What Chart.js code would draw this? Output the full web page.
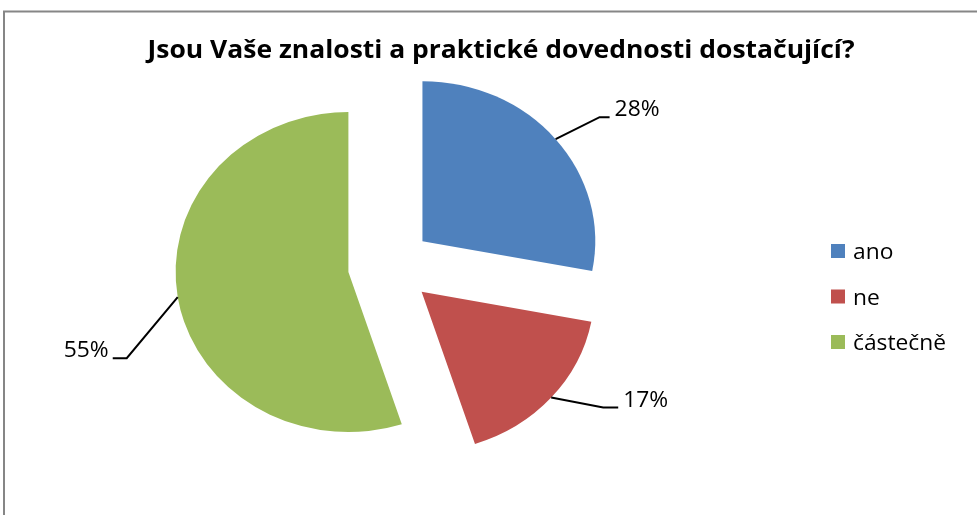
<!DOCTYPE html>
<html><head><meta charset="utf-8">
<script src="https://cdn.jsdelivr.net/npm/chart.js@4.4.0/dist/chart.umd.min.js"></script>
<style>html,body{margin:0;padding:0;background:#fff;}#wrap{width:977px;height:515px;position:relative;}canvas{display:block;}</style>
</head><body><div id="wrap"><canvas id="c" width="977" height="515"></canvas></div>
<script>
const chartTitle = 'Jsou Vaše znalosti a praktické dovednosti dostačující?';
const categories = ['ano', 'ne', 'částečně'];
const values = [28, 17, 55];
const percentLabels = ['28%', '17%', '55%'];
const colors = ['#4F81BD', '#C0504D', '#9BBB59'];

const STRETCH = 1.08;   // horizontal stretch of the reference image
const EXPLODE = 39;     // distance each slice is pulled out
const leader = [
  {dx: 44, dy: -22, tail: 10},
  {dx: 52, dy: 10, tail: 15},
  {dx: -51, dy: 61, tail: -14}
];

function centerX(chart){ return (chart.chartArea.left + chart.chartArea.right) / 2; }
function sx(chart, x){ const c = centerX(chart); return c + (x - c) * STRETCH; }

function hText(ctx, text, x, y, align, hs) {
  const w = ctx.measureText(text).width * hs;
  let left = x;
  if (align === 'center') left = x - w / 2;
  else if (align === 'right') left = x - w;
  ctx.save();
  ctx.textAlign = 'left';
  ctx.translate(left, y);
  ctx.scale(hs, 1);
  ctx.fillText(text, 0, 0);
  ctx.restore();
}
function fitScale(ctx, sample, target) { return target / ctx.measureText(sample).width; }

const pieDecor = {
  id: 'pieDecor',
  afterDatasetUpdate(chart, args) {
    args.meta.data.forEach(arc => {
      const mid = (arc.startAngle + arc.endAngle) / 2;
      arc.x += Math.cos(mid) * EXPLODE;
      arc.y += Math.sin(mid) * EXPLODE;
    });
  },
  beforeDraw(chart) {
    const ctx = chart.ctx;
    ctx.save();
    ctx.fillStyle = '#fff';
    ctx.fillRect(0, 0, chart.width, chart.height);
    ctx.strokeStyle = '#868686';
    ctx.lineWidth = 2;
    ctx.beginPath();
    ctx.moveTo(4, chart.height + 2);
    ctx.lineTo(4, 11.5);
    ctx.lineTo(chart.width + 2, 11.5);
    ctx.stroke();
    ctx.restore();
  },
  beforeDatasetsDraw(chart) {
    const ctx = chart.ctx, c = centerX(chart);
    ctx.save();
    ctx.translate(c, 0); ctx.scale(STRETCH, 1); ctx.translate(-c, 0);
  },
  afterDatasetsDraw(chart) {
    chart.ctx.restore();
  },
  afterDraw(chart) {
    const ctx = chart.ctx;
    const meta = chart.getDatasetMeta(0);
    ctx.save();
    ctx.fillStyle = '#000';
    ctx.textBaseline = 'alphabetic';
    // title
    ctx.font = 'bold 25px "Open Sans"';
    hText(ctx, chartTitle, 501, 58, 'center', fitScale(ctx, chartTitle, 707));
    // data labels with leader lines
    ctx.font = '21px "Open Sans"';
    const ls = fitScale(ctx, percentLabels[0], 45);
    ctx.strokeStyle = '#000';
    ctx.lineWidth = 2;
    meta.data.forEach((arc, i) => {
      const mid = (arc.startAngle + arc.endAngle) / 2;
      const ax = sx(chart, arc.x + Math.cos(mid) * arc.outerRadius);
      const ay = arc.y + Math.sin(mid) * arc.outerRadius;
      const L = leader[i];
      const ex = ax + L.dx, ey = ay + L.dy;
      const tx = ex + L.tail;
      ctx.beginPath();
      ctx.moveTo(ax, ay); ctx.lineTo(ex, ey); ctx.lineTo(tx, ey);
      ctx.stroke();
      hText(ctx, percentLabels[i], tx + (L.tail > 0 ? 5 : -4), ey - 1, L.tail > 0 ? 'left' : 'right', ls);
    });
    // legend
    ctx.font = '22px "Open Sans"';
    const gs = fitScale(ctx, categories[2], 93);
    categories.forEach((lab, i) => {
      const y = 251 + i * 45.5;
      ctx.fillStyle = colors[i];
      ctx.fillRect(831, y - 7, 14, 14);
      ctx.fillStyle = '#000';
      hText(ctx, lab, 853, y + 8, 'left', gs);
    });
    ctx.restore();
  }
};

new Chart(document.getElementById('c'), {
  type: 'pie',
  data: {
    labels: categories,
    datasets: [{
      data: values,
      backgroundColor: colors,
      borderWidth: 0
    }]
  },
  options: {
    responsive: false,
    animation: false,
    events: [],
    layout: {padding: {left: 230, right: 427, top: 106, bottom: 89}},
    plugins: {legend: {display: false}, title: {display: false}, tooltip: {enabled: false}}
  },
  plugins: [pieDecor]
});
</script></body></html>
